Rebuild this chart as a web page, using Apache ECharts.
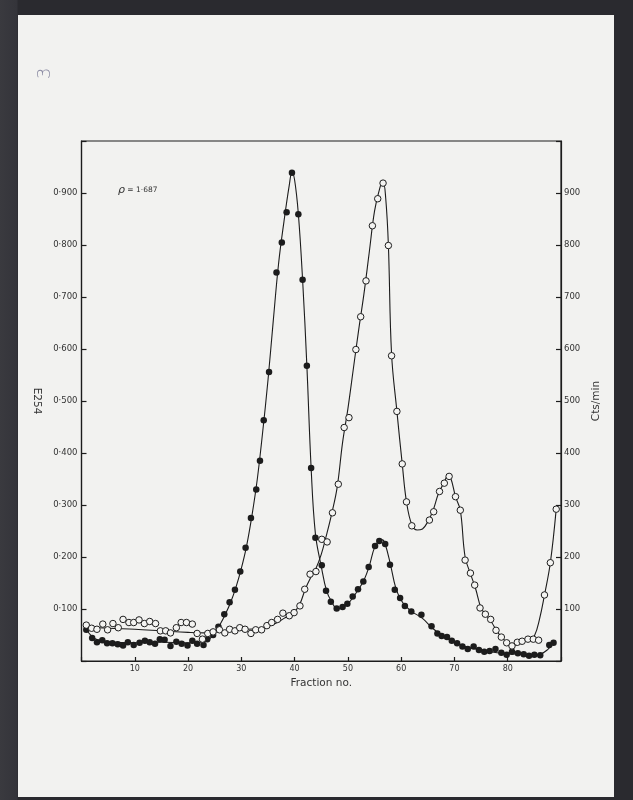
<!DOCTYPE html>
<html><head><meta charset="utf-8">
<script src="https://cdn.jsdelivr.net/npm/echarts@6/dist/echarts.min.js"></script>
<style>
html,body{margin:0;padding:0;width:633px;height:800px;overflow:hidden;
  background:linear-gradient(90deg,#3a3a3f 0px,#34343a 17px,#2a2a2f 18px,#2a2a2f 100%);}
#paper{position:absolute;left:18px;top:15px;width:596px;height:782px;background:#f2f2f0;}
#chart{width:596px;height:782px;}
</style></head><body>
<div id="paper"><div id="chart"></div></div>
<script>
// tick labels
const fractionTicks = [10, 20, 30, 40, 50, 60, 70, 80];
const e254Ticks = ['0·100','0·200','0·300','0·400','0·500','0·600','0·700','0·800','0·900'];
const ctsTicks = ['100','200','300','400','500','600','700','800','900'];

// E254 (filled circles): fraction, absorbance
const e254Fraction = [0.9,2.0,2.9,3.9,4.8,5.8,6.8,7.8,8.7,9.8,10.9,11.9,12.8,13.8,14.7,15.6,16.7,17.8,18.8,19.9,20.8,21.7,22.9,23.6,24.7,25.7,26.8,27.8,28.8,29.8,30.8,31.8,32.8,33.5,34.2,35.2,36.6,37.6,38.5,39.5,40.7,41.5,42.3,43.1,43.9,45.1,45.9,46.8,47.9,49.0,49.9,50.9,51.9,52.9,53.9,55.1,55.9,57.0,57.9,58.8,59.8,60.7,61.9,63.8,65.7,66.8,67.6,68.6,69.5,70.5,71.5,72.5,73.6,74.6,75.6,76.6,77.7,78.8,79.8,80.8,81.9,83.0,84.0,85.0,86.1,87.8,88.6];
const e254Values   = [0.060,0.044,0.036,0.040,0.034,0.034,0.032,0.030,0.036,0.031,0.035,0.039,0.036,0.033,0.042,0.041,0.029,0.037,0.033,0.030,0.039,0.033,0.031,0.042,0.050,0.066,0.090,0.113,0.137,0.172,0.218,0.275,0.330,0.385,0.463,0.556,0.747,0.805,0.863,0.939,0.859,0.733,0.568,0.371,0.237,0.184,0.135,0.114,0.101,0.104,0.110,0.124,0.138,0.153,0.181,0.221,0.231,0.225,0.185,0.137,0.121,0.106,0.095,0.089,0.067,0.053,0.048,0.046,0.039,0.034,0.028,0.023,0.028,0.021,0.018,0.019,0.023,0.016,0.012,0.018,0.015,0.013,0.010,0.012,0.011,0.031,0.035];
// E254 drawn curve
const e254CurveX = [0.9,2,3,5,10,15,20,23,24,25,26,27,28,29,30,31,32,33,34,35,36,37,38,39,39.5,40,40.7,41.5,42.3,43.1,43.9,45,46,47,48,49,50,51,52,53,54,55,56,56.5,57,58,59,60,61,62,64,66,68,70,72,74,76,78,80,82,84,86,87.5,88.6];
const e254CurveY = [0.060,0.047,0.041,0.037,0.035,0.036,0.035,0.037,0.042,0.053,0.070,0.090,0.113,0.142,0.178,0.222,0.280,0.350,0.440,0.540,0.655,0.765,0.845,0.915,0.940,0.925,0.860,0.733,0.568,0.371,0.245,0.182,0.135,0.113,0.101,0.103,0.110,0.123,0.138,0.155,0.182,0.218,0.232,0.233,0.225,0.185,0.140,0.117,0.104,0.095,0.082,0.062,0.047,0.036,0.028,0.023,0.019,0.016,0.014,0.013,0.012,0.013,0.022,0.036];

// Cts/min (open circles)
const ctsFraction = [0.9,1.9,2.9,4.0,4.9,5.9,6.9,7.8,8.9,9.8,10.8,11.8,12.8,13.9,14.8,15.8,16.7,17.8,18.7,19.7,20.8,21.7,22.7,23.7,24.7,25.9,26.9,27.8,28.8,29.7,30.7,31.8,32.7,33.8,34.8,35.7,36.8,37.8,39.0,39.9,41.0,41.9,42.9,44.0,45.1,46.1,47.1,48.2,49.3,50.2,51.5,52.4,53.4,54.6,55.6,56.6,57.6,58.2,59.2,60.2,61.0,62.0,65.3,66.1,67.2,68.1,69.0,70.2,71.1,72.0,73.0,73.8,74.8,75.8,76.8,77.8,78.8,79.8,80.8,81.8,82.7,83.8,84.8,85.8,86.9,88.0,89.1];
const ctsValues   = [69,63,61,71,60,72,64,80,74,74,79,72,76,72,58,58,54,64,74,74,71,53,42,53,56,60,54,61,58,64,61,53,60,60,68,74,80,92,87,93,106,138,167,172,234,229,285,340,449,468,599,662,731,837,889,919,799,587,480,379,306,260,271,287,326,342,355,316,290,194,169,146,102,90,80,59,46,35,29,36,38,42,42,40,127,189,292];
// Cts/min drawn curve
const ctsCurveX = [0.9,5,10,15,20,23,26,30,34,36,38,40,41,42,43,44,45,46,47,48,49,50,51,52,53,54,55,56,56.6,57.1,57.6,58.2,59.2,60.2,61,62,63,64,65,66,67,68,68.8,69.3,70.2,71.1,72,73,74,75,76,77,78,79,80,81,82,83,84,85,86,86.9,88,89.1];
const ctsCurveY = [66,63,61,58,55,54,57,60,64,70,82,95,110,138,160,178,205,243,285,335,420,485,560,635,705,785,865,910,922,890,800,590,480,379,306,262,252,254,268,290,322,342,356,352,316,290,200,168,138,102,88,74,57,44,35,30,32,36,40,48,82,127,189,292];

const zip = (a, b) => a.map((v, i) => [v, b[i]]);
const font = 'DejaVu Sans';
const ink = '#1c1c1c';
const txt = '#333333';

const chart = echarts.init(document.getElementById('chart'), null, {renderer: 'canvas'});
chart.setOption({
  animation: false,
  backgroundColor: 'transparent',
  grid: {left: 63.5, right: 53, top: 126, bottom: 136, show: true,
         borderColor: ink, borderWidth: 1.2, backgroundColor: 'transparent'},
  xAxis: {
    type: 'value', min: 0, max: 90, interval: 10,
    name: 'Fraction no.', nameLocation: 'middle', nameGap: 16,
    nameTextStyle: {fontFamily: font, fontSize: 10.5, color: txt},
    axisLine: {show: true, lineStyle: {color: ink, width: 1.2}},
    axisTick: {show: true, inside: true, length: 4, lineStyle: {color: ink, width: 1.2}},
    axisLabel: {margin: 4, fontFamily: font, fontSize: 8, color: txt,
      formatter: v => fractionTicks.includes(v) ? String(v) : ''},
    splitLine: {show: false}
  },
  yAxis: [{
    type: 'value', min: 0, max: 1, interval: 0.1, position: 'left',
    name: 'E254', nameLocation: 'middle', nameGap: 30, nameRotate: -90,
    nameTextStyle: {fontFamily: font, fontSize: 10.5, color: txt},
    axisLine: {show: true, lineStyle: {color: ink, width: 1.2}},
    axisTick: {show: true, inside: true, length: 5, lineStyle: {color: ink, width: 1.2}},
    axisLabel: {margin: 4, fontFamily: font, fontSize: 8.5, color: txt,
      formatter: v => e254Ticks[Math.round(v * 10) - 1] || ''},
    splitLine: {show: false}
  }, {
    type: 'value', min: 0, max: 1000, interval: 100, position: 'right',
    name: 'Cts/min', nameLocation: 'middle', nameGap: 26,
    nameTextStyle: {fontFamily: font, fontSize: 10.5, color: txt},
    axisLine: {show: true, lineStyle: {color: ink, width: 1.2}},
    axisTick: {show: true, inside: true, length: 5, lineStyle: {color: ink, width: 1.2}},
    axisLabel: {margin: 3, fontFamily: font, fontSize: 8.5, color: txt,
      formatter: v => ctsTicks[Math.round(v / 100) - 1] || ''},
    splitLine: {show: false}
  }],
  graphic: [
    {type: 'text', left: 100, top: 170, z: 10,
     style: {text: '{a|ρ}{b| = 1·687}', rich: {
       a: {fontFamily: font, fontStyle: 'italic', fontSize: 11, fill: txt},
       b: {fontFamily: font, fontSize: 7.5, fill: txt}}}},
    {type: 'text', x: 18, y: 64, rotation: Math.PI / 2, z: 10,
     style: {text: '3', fontFamily: font, fontSize: 18, fill: '#8a8aa2', fontWeight: 'lighter'}}
  ],
  series: [
    {type: 'line', yAxisIndex: 0, data: zip(e254CurveX, e254CurveY), smooth: 0.4,
     symbol: 'none', lineStyle: {color: ink, width: 1.1}, z: 2},
    {type: 'line', yAxisIndex: 1, data: zip(ctsCurveX, ctsCurveY), smooth: 0.4,
     symbol: 'none', lineStyle: {color: ink, width: 1.1}, z: 2},
    {type: 'scatter', yAxisIndex: 0, data: zip(e254Fraction, e254Values), symbol: 'circle',
     symbolSize: 6.5, itemStyle: {color: ink, opacity: 1}, z: 3},
    {type: 'scatter', yAxisIndex: 1, data: zip(ctsFraction, ctsValues), symbol: 'circle',
     symbolSize: 6.5, itemStyle: {color: '#f4f4f2', borderColor: ink, borderWidth: 1, opacity: 1}, z: 4}
  ]
});
</script>
</body></html>
